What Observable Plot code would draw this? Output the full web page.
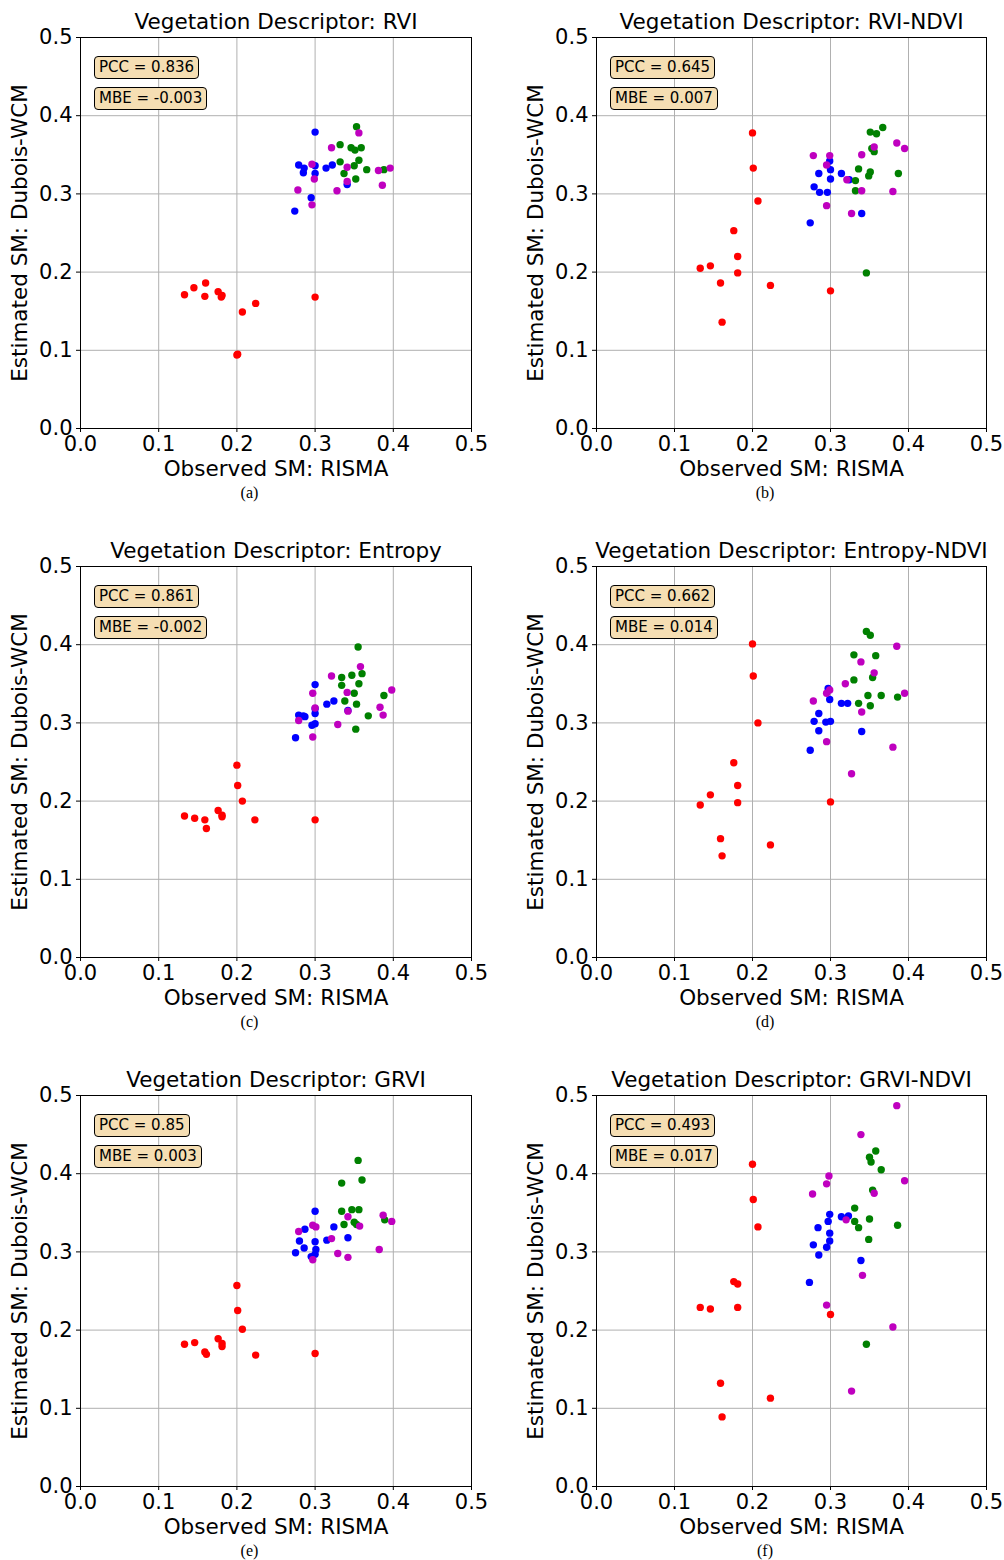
<!DOCTYPE html>
<html><head><meta charset="utf-8">
<script src="https://cdn.jsdelivr.net/npm/d3@7"></script>
<script src="https://cdn.jsdelivr.net/npm/@observablehq/plot@0.6"></script>
<style>
body{margin:0;background:#fff;}
#root{position:relative;width:1004px;height:1560px;background:#fff;font-family:"DejaVu Sans",sans-serif;overflow:hidden;}
.panel{position:absolute;}
.box{position:absolute;background:#f5deb3;border:1px solid #000;border-radius:4px;font-size:15px;line-height:21px;padding:0 4px;white-space:nowrap;color:#000;font-family:"DejaVu Sans",sans-serif;}
.cap{position:absolute;font-family:"Liberation Serif",serif;font-size:16px;transform:translateX(-50%);color:#000;}
</style></head><body><div id="root"></div><script>
// ---- shared ----
const ticks = [0, 0.1, 0.2, 0.3, 0.4, 0.5];
const groups = ["Group 1", "Group 2", "Group 3", "Group 4"];
const groupColors = ["#0000ff", "#008000", "#bf00bf", "#ff0000"];
const xLabel = "Observed SM: RISMA";
const yLabel = "Estimated SM: Dubois-WCM";
const titles = ["Vegetation Descriptor: RVI", "Vegetation Descriptor: RVI-NDVI", "Vegetation Descriptor: Entropy", "Vegetation Descriptor: Entropy-NDVI", "Vegetation Descriptor: GRVI", "Vegetation Descriptor: GRVI-NDVI"];
const captions = ["(a)", "(b)", "(c)", "(d)", "(e)", "(f)"];
const pccValues = ["0.836", "0.645", "0.861", "0.662", "0.85", "0.493"];
const mbeValues = ["-0.003", "0.007", "-0.002", "0.014", "0.003", "0.017"];

// ---- (a) RVI ----
const rviRed = [[0.133,0.171],[0.145,0.180],[0.160,0.186],[0.159,0.169],[0.176,0.175],[0.180,0.168],[0.181,0.170],[0.207,0.149],[0.224,0.160],[0.300,0.168],[0.201,0.095],[0.200,0.094]];
const rviBlue = [[0.300,0.379],[0.279,0.337],[0.286,0.333],[0.285,0.327],[0.300,0.336],[0.300,0.326],[0.314,0.333],[0.322,0.337],[0.341,0.312],[0.295,0.295],[0.274,0.278]];
const rviGreen = [[0.353,0.386],[0.332,0.363],[0.346,0.359],[0.351,0.356],[0.359,0.359],[0.332,0.341],[0.356,0.343],[0.350,0.336],[0.366,0.331],[0.337,0.326],[0.352,0.319],[0.388,0.331]];
const rviMagenta = [[0.356,0.378],[0.321,0.359],[0.296,0.338],[0.299,0.319],[0.341,0.334],[0.381,0.330],[0.396,0.333],[0.341,0.316],[0.328,0.304],[0.386,0.311],[0.278,0.305],[0.296,0.286]];

// ---- (b) RVI-NDVI ----
const rviNdviRed = [[0.200,0.378],[0.201,0.333],[0.207,0.291],[0.176,0.253],[0.181,0.220],[0.133,0.205],[0.146,0.208],[0.181,0.199],[0.159,0.186],[0.223,0.183],[0.300,0.176],[0.161,0.136]];
const rviNdviBlue = [[0.299,0.342],[0.300,0.331],[0.285,0.326],[0.314,0.326],[0.300,0.319],[0.279,0.309],[0.286,0.302],[0.296,0.302],[0.324,0.318],[0.340,0.275],[0.274,0.263]];
const rviNdviGreen = [[0.367,0.385],[0.351,0.379],[0.359,0.377],[0.353,0.358],[0.356,0.354],[0.336,0.332],[0.351,0.328],[0.349,0.323],[0.387,0.326],[0.332,0.317],[0.332,0.304],[0.346,0.199]];
const rviNdviMagenta = [[0.278,0.349],[0.299,0.349],[0.295,0.337],[0.356,0.360],[0.340,0.350],[0.385,0.365],[0.395,0.358],[0.321,0.318],[0.340,0.304],[0.380,0.303],[0.295,0.285],[0.327,0.275]];

// ---- (c) Entropy ----
const entRed = [[0.200,0.246],[0.201,0.220],[0.207,0.200],[0.133,0.181],[0.146,0.178],[0.159,0.176],[0.161,0.165],[0.176,0.188],[0.181,0.182],[0.181,0.180],[0.223,0.176],[0.300,0.176]];
const entBlue = [[0.300,0.349],[0.279,0.310],[0.285,0.309],[0.287,0.308],[0.315,0.324],[0.324,0.328],[0.300,0.318],[0.300,0.312],[0.296,0.297],[0.300,0.299],[0.342,0.316],[0.275,0.281]];
const entGreen = [[0.355,0.397],[0.334,0.358],[0.347,0.361],[0.360,0.363],[0.334,0.348],[0.356,0.350],[0.350,0.338],[0.338,0.328],[0.353,0.324],[0.388,0.335],[0.368,0.309],[0.352,0.292]];
const entMagenta = [[0.358,0.372],[0.321,0.360],[0.341,0.339],[0.297,0.338],[0.398,0.342],[0.300,0.319],[0.342,0.315],[0.383,0.320],[0.387,0.310],[0.279,0.303],[0.329,0.298],[0.297,0.282]];

// ---- (d) Entropy-NDVI ----
const entNdviRed = [[0.200,0.401],[0.201,0.360],[0.207,0.300],[0.176,0.249],[0.181,0.220],[0.146,0.208],[0.133,0.195],[0.181,0.198],[0.300,0.199],[0.159,0.152],[0.223,0.144],[0.161,0.130]];
const entNdviBlue = [[0.297,0.344],[0.299,0.330],[0.314,0.325],[0.322,0.325],[0.285,0.312],[0.279,0.302],[0.294,0.301],[0.300,0.302],[0.285,0.290],[0.340,0.289],[0.274,0.265]];
const entNdviGreen = [[0.346,0.417],[0.351,0.412],[0.330,0.387],[0.358,0.386],[0.330,0.355],[0.354,0.358],[0.348,0.335],[0.365,0.335],[0.386,0.333],[0.336,0.325],[0.351,0.322]];
const entNdviMagenta = [[0.385,0.398],[0.339,0.378],[0.356,0.364],[0.319,0.350],[0.299,0.342],[0.295,0.338],[0.278,0.328],[0.395,0.338],[0.340,0.314],[0.295,0.276],[0.380,0.269],[0.327,0.235]];

// ---- (e) GRVI ----
const grviRed = [[0.200,0.257],[0.201,0.225],[0.207,0.201],[0.133,0.182],[0.146,0.184],[0.176,0.189],[0.181,0.183],[0.181,0.179],[0.159,0.172],[0.161,0.169],[0.224,0.168],[0.300,0.170]];
const grviBlue = [[0.300,0.352],[0.287,0.329],[0.324,0.332],[0.280,0.314],[0.300,0.313],[0.315,0.315],[0.342,0.318],[0.286,0.305],[0.301,0.303],[0.275,0.299],[0.295,0.294],[0.300,0.297]];
const grviGreen = [[0.355,0.417],[0.334,0.388],[0.360,0.392],[0.334,0.352],[0.347,0.354],[0.356,0.354],[0.337,0.335],[0.350,0.338],[0.353,0.335],[0.389,0.341]];
const grviMagenta = [[0.342,0.345],[0.357,0.333],[0.387,0.347],[0.398,0.339],[0.297,0.334],[0.301,0.332],[0.279,0.326],[0.321,0.317],[0.382,0.303],[0.329,0.298],[0.342,0.293],[0.297,0.290]];

// ---- (f) GRVI-NDVI ----
const grviNdviRed = [[0.200,0.412],[0.201,0.367],[0.207,0.332],[0.176,0.262],[0.181,0.259],[0.133,0.229],[0.146,0.227],[0.181,0.229],[0.300,0.220],[0.159,0.132],[0.223,0.113],[0.161,0.089]];
const grviNdviBlue = [[0.299,0.348],[0.297,0.339],[0.314,0.345],[0.323,0.346],[0.284,0.331],[0.299,0.324],[0.299,0.314],[0.278,0.309],[0.295,0.306],[0.285,0.296],[0.339,0.289],[0.273,0.261]];
const grviNdviGreen = [[0.358,0.429],[0.350,0.421],[0.352,0.415],[0.365,0.405],[0.354,0.379],[0.331,0.356],[0.331,0.339],[0.350,0.342],[0.336,0.331],[0.386,0.334],[0.349,0.316],[0.346,0.182]];
const grviNdviMagenta = [[0.385,0.487],[0.339,0.450],[0.395,0.391],[0.298,0.397],[0.295,0.387],[0.277,0.374],[0.356,0.375],[0.320,0.341],[0.341,0.270],[0.295,0.232],[0.380,0.204],[0.327,0.122]];

const panelData = [
  [rviBlue, rviGreen, rviMagenta, rviRed],
  [rviNdviBlue, rviNdviGreen, rviNdviMagenta, rviNdviRed],
  [entBlue, entGreen, entMagenta, entRed],
  [entNdviBlue, entNdviGreen, entNdviMagenta, entNdviRed],
  [grviBlue, grviGreen, grviMagenta, grviRed],
  [grviNdviBlue, grviNdviGreen, grviNdviMagenta, grviNdviRed]
];

const root = document.getElementById("root");
const fmt = d3.format(".1f");
const W = 502, H = 500, MT = 37, MB = 72, ROW = 529;
const FS = 21.5, TFS = 21;

panelData.forEach((sets, i) => {
  const col = i % 2, row = Math.floor(i / 2);
  const ml = col === 0 ? 80 : 94;
  const fw = col === 0 ? 391 : 390;
  const rows = [];
  sets.forEach((arr, gi) => arr.forEach(([x, y]) => rows.push({x, y, g: groups[gi]})));
  const svg = Plot.plot({
    width: W, height: H,
    marginLeft: ml, marginRight: W - ml - fw, marginTop: MT, marginBottom: MB,
    x: {domain: [0, 0.5]},
    y: {domain: [0, 0.5]},
    color: {type: "ordinal", domain: groups, range: groupColors},
    style: {fontFamily: "DejaVu Sans", fontSize: TFS + "px", background: "transparent", color: "black", overflow: "visible"},
    marks: [
      Plot.gridX(ticks, {stroke: "#b0b0b0", strokeOpacity: 1, strokeWidth: 1}),
      Plot.gridY(ticks, {stroke: "#b0b0b0", strokeOpacity: 1, strokeWidth: 1}),
      Plot.dot(rows, {x: "x", y: "y", fill: "g", r: 3.7}),
      Plot.frame({stroke: "black", strokeWidth: 1}),
      Plot.axisX(ticks, {tickFormat: fmt, tickSize: 4, tickPadding: 4, fontSize: TFS, label: null}),
      Plot.axisY(ticks, {tickFormat: fmt, tickSize: 4, tickPadding: 4, fontSize: TFS, label: null}),
      Plot.text([titles[i]], {frameAnchor: "top", dy: -15, lineAnchor: "middle", fontSize: FS}),
      Plot.text([xLabel], {frameAnchor: "bottom", dy: 41, lineAnchor: "middle", fontSize: FS}),
      Plot.text([yLabel], {frameAnchor: "left", dx: -60, rotate: -90, textAnchor: "middle", lineAnchor: "middle", fontSize: FS})
    ]
  });
  const wrap = document.createElement("div");
  wrap.className = "panel";
  wrap.style.left = (col * 502) + "px";
  wrap.style.top = (row * ROW) + "px";
  wrap.appendChild(svg);
  root.appendChild(wrap);

  const frameLeft = col * 502 + ml;
  const top = row * ROW;
  const b1 = document.createElement("div");
  b1.className = "box";
  b1.textContent = "PCC = " + pccValues[i];
  b1.style.left = (frameLeft + 14) + "px";
  b1.style.top = (top + 56) + "px";
  root.appendChild(b1);
  const b2 = document.createElement("div");
  b2.className = "box";
  b2.textContent = "MBE = " + mbeValues[i];
  b2.style.left = (frameLeft + 14) + "px";
  b2.style.top = (top + 87) + "px";
  root.appendChild(b2);

  const cap = document.createElement("div");
  cap.className = "cap";
  cap.textContent = captions[i];
  cap.style.left = (frameLeft + fw / 2 - 26) + "px";
  cap.style.top = (top + 484) + "px";
  root.appendChild(cap);
});
</script></body></html>
